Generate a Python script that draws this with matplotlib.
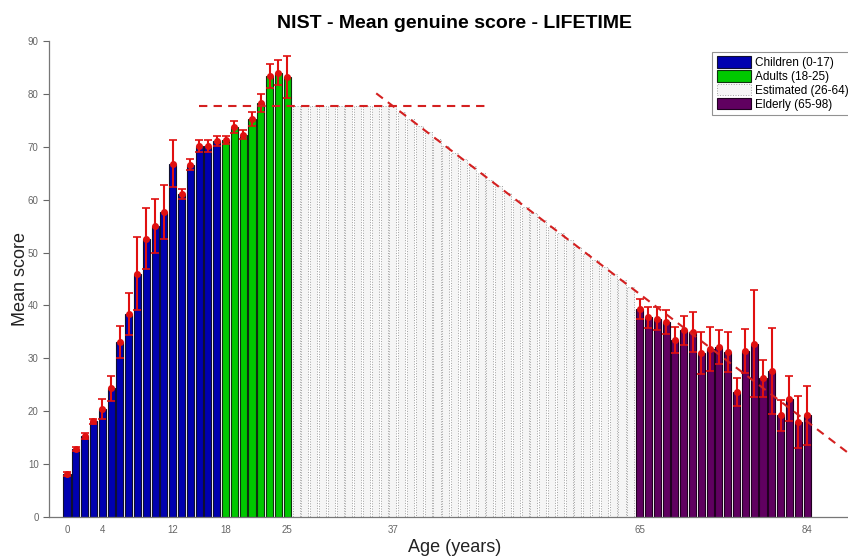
import matplotlib
matplotlib.use("Agg")
import matplotlib.pyplot as plt
import numpy as np

plt.rcParams['font.family'] = ['Liberation Sans', 'DejaVu Sans']

# Children 0-17
child_ages = list(range(0, 18))
child_mean = [8.2, 12.8, 15.3, 18.1, 20.5, 24.3, 33.1, 38.4, 46.0, 52.6, 55.1, 57.7,
              66.8, 61.1, 66.6, 70.1, 70.1, 71.1]
child_err = [0.4, 0.4, 0.5, 0.5, 1.9, 2.3, 3.1, 4.0, 6.9, 5.8, 5.1, 5.1,
             4.4, 1.0, 1.0, 1.1, 1.1, 0.9]

# Adults 18-25
adult_ages = list(range(18, 26))
adult_mean = [71.3, 73.7, 72.3, 75.3, 78.3, 83.4, 84.0, 83.2]
adult_err = [0.8, 1.1, 0.9, 1.3, 1.7, 2.2, 2.4, 3.9]

# Estimated 26-64
est_ages = list(range(26, 65))
est_mean = [77.8] * 12 + [76.5, 75.3, 74.0, 72.7, 71.5, 70.2, 68.9, 67.6, 66.4, 65.1,
                          63.8, 62.6, 61.3, 60.0, 58.7, 57.5, 56.2, 54.9, 53.7, 52.4,
                          51.1, 49.8, 48.6, 47.3, 46.0, 44.8, 43.5]

# Elderly 65-84
eld_ages = list(range(65, 85))
eld_mean = [39.4, 37.8, 37.5, 36.9, 33.5, 35.3, 35.0, 31.0, 31.8, 32.1, 31.2, 23.6,
            31.4, 32.8, 26.2, 27.6, 19.2, 22.4, 18.0, 19.2]
eld_err = [1.9, 2.0, 2.2, 2.3, 2.5, 2.7, 3.8, 3.9, 4.1, 3.2, 3.7, 2.7,
           4.2, 10.2, 3.5, 8.2, 3.0, 4.3, 4.9, 5.5]

# Reference lines
hline_x = [15, 48]
hline_y = [77.8, 77.8]
dline_x = [35.1, 89.0]
dline_y = [80.1, 11.7]

xticks = [0, 4, 12, 18, 25, 37, 65, 84]
yticks = list(range(0, 91, 10))

fig = plt.figure(figsize=(8.48, 5.59), dpi=100)
ax = fig.add_axes([0.0578, 0.0751, 0.9422, 0.8516])

w = 0.8
b1 = ax.bar(child_ages, child_mean, width=w, color='#0000b0', edgecolor='#101030', linewidth=0.8,
            label='Children (0-17)', zorder=2)
b2 = ax.bar(adult_ages, adult_mean, width=w, color='#00c800', edgecolor='#103010', linewidth=0.8,
            label='Adults (18-25)', zorder=2)
b3 = ax.bar(est_ages, est_mean, width=w, color='#f5f5f5', edgecolor='#a0a0a0', linewidth=0.7,
            linestyle=':', label='Estimated (26-64)', zorder=2)
b4 = ax.bar(eld_ages, eld_mean, width=w, color='#600060', edgecolor='#200020', linewidth=0.8,
            label='Elderly (65-98)', zorder=2)

for ages, means, errs in [(child_ages, child_mean, child_err),
                          (adult_ages, adult_mean, adult_err),
                          (eld_ages, eld_mean, eld_err)]:
    ax.errorbar(ages, means, yerr=errs, fmt='o', color='#e01010', ecolor='#e01010',
                markersize=4, elinewidth=1.5, capsize=3, capthick=1.2, zorder=4)

ax.plot(hline_x, hline_y, linestyle=(0, (4, 3)), color='#d42020', linewidth=1.5, zorder=5)
ax.plot(dline_x, dline_y, linestyle=(0, (4, 3)), color='#d42020', linewidth=1.5, zorder=5)

ax.set_xlim(-2.04, 88.65)
ax.set_ylim(0, 90)
ax.set_xticks(xticks)
ax.set_yticks(yticks)
ax.tick_params(axis='both', labelsize=7, colors='#666666', length=4, width=0.8)
ax.tick_params(axis='x', length=0, pad=6)
for s in ['top', 'right']:
    ax.spines[s].set_visible(False)
for s in ['left', 'bottom']:
    ax.spines[s].set_color('#777777')
    ax.spines[s].set_linewidth(0.9)

ax.set_xlabel('Age (years)', fontsize=13, color='#222222', va='center')
ax.set_ylabel('Mean score', fontsize=13, color='#222222', va='center')
ax.xaxis.set_label_coords(0.5075, -0.065)
ax.yaxis.set_label_coords(-0.036, 0.5)
ax.set_title('NIST - Mean genuine score - LIFETIME', fontsize=14, fontweight='bold', pad=9,
             x=0.508)

leg = ax.legend(handles=[b1, b2, b3, b4], loc='upper left', bbox_to_anchor=(0.823, 0.99),
                fontsize=8.5, frameon=True, fancybox=False, edgecolor='#777777',
                handlelength=2.9, handleheight=1.1, borderpad=0.4, labelspacing=0.1,
                handletextpad=0.3)
leg.get_frame().set_linewidth(0.8)

fig.savefig('out.png', dpi=100)
